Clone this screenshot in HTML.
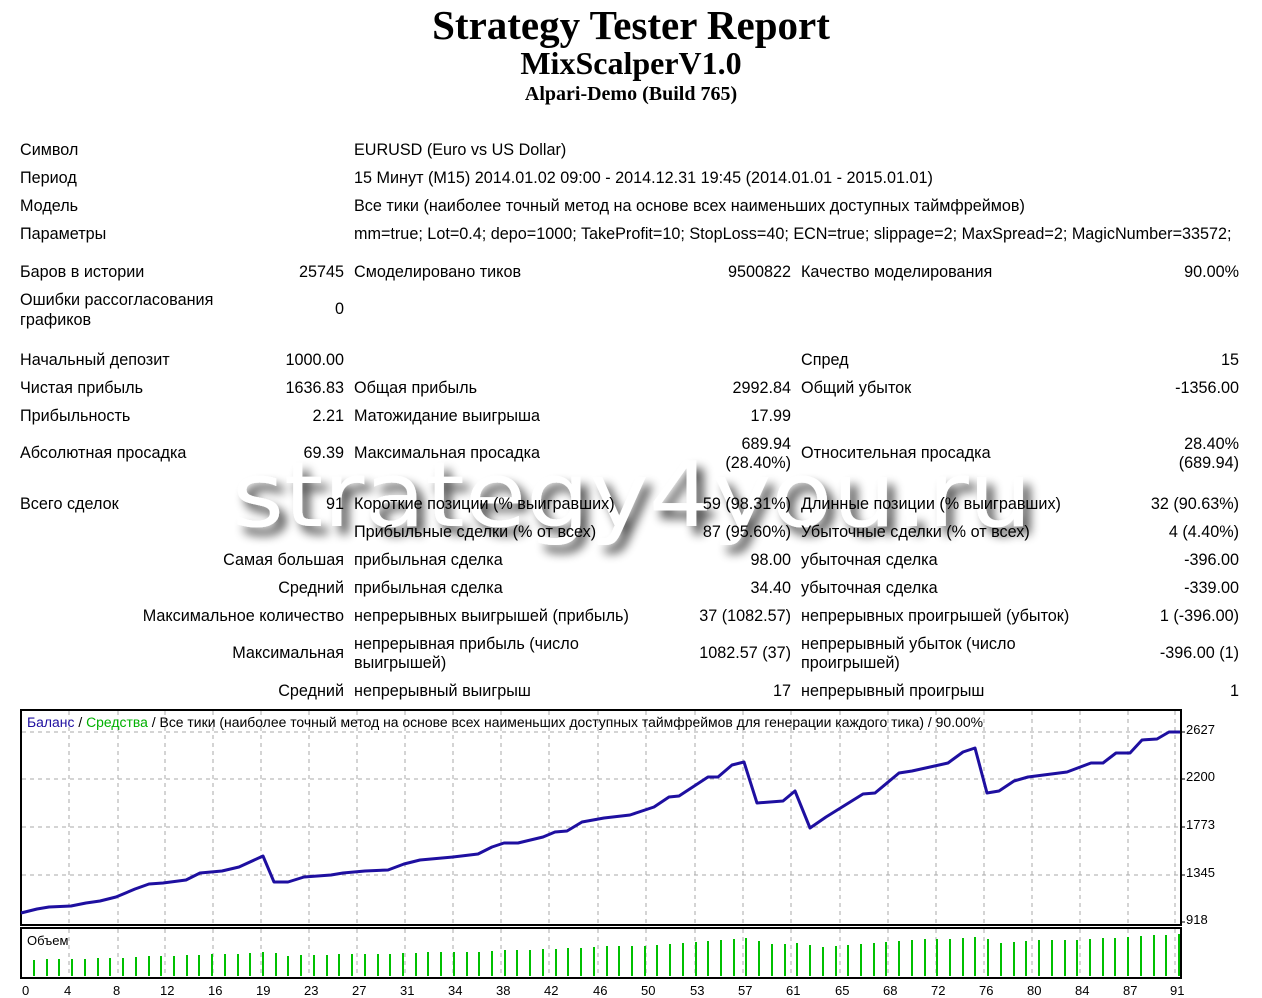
<!DOCTYPE html>
<html><head><meta charset="utf-8">
<style>
html,body{margin:0;padding:0;background:#fff;}
body{width:1262px;height:998px;position:relative;overflow:hidden;font-family:"Liberation Sans","DejaVu Sans",sans-serif;font-size:16.2px;color:#000;}
.t{position:absolute;white-space:nowrap;line-height:19px;}
.r{text-align:right;}
.h{position:absolute;left:0;width:1262px;text-align:center;font-family:"Liberation Serif",serif;font-weight:bold;}
</style></head><body>
<svg id="wm" width="1262" height="998" style="position:absolute;left:0;top:0;pointer-events:none">
<defs><filter id="sh" x="-5%" y="-20%" width="115%" height="150%"><feGaussianBlur in="SourceAlpha" stdDeviation="5"/><feOffset dx="7" dy="8"/><feComponentTransfer><feFuncA type="linear" slope="0.7"/></feComponentTransfer><feMerge><feMergeNode/><feMergeNode in="SourceGraphic"/></feMerge></filter></defs>
<text x="232" y="526" font-family="DejaVu Sans, sans-serif" font-size="90" fill="#fff" textLength="800" lengthAdjust="spacingAndGlyphs" filter="url(#sh)">strategy4you.ru</text>
</svg>
<div class="h" style="top:1px;font-size:41px;">Strategy Tester Report</div>
<div class="h" style="top:45px;font-size:32px;">MixScalperV1.0</div>
<div class="h" style="top:83px;font-size:20px;">Alpari-Demo (Build 765)</div>
<div id="tbl"></div>
<svg id="ch" width="1262" height="998" style="position:absolute;left:0;top:0"></svg>
<script>
var rows=[
[149,["Символ",20,0],["EURUSD (Euro vs US Dollar)",354,0]],
[177,["Период",20,0],["15 Минут (M15) 2014.01.02 09:00 - 2014.12.31 19:45 (2014.01.01 - 2015.01.01)",354,0]],
[205,["Модель",20,0],["Все тики (наиболее точный метод на основе всех наименьших доступных таймфреймов)",354,0]],
[233,["Параметры",20,0],["mm=true; Lot=0.4; depo=1000; TakeProfit=10; StopLoss=40; ECN=true; slippage=2; MaxSpread=2; MagicNumber=33572;",354,0]],
[271,["Баров в истории",20,0],["25745",344,1],["Смоделировано тиков",354,0],["9500822",791,1],["Качество моделирования",801,0],["90.00%",1239,1]],
[299,["Ошибки рассогласования",20,0]],[319,["графиков",20,0]],[308,["0",344,1]],
[359,["Начальный депозит",20,0],["1000.00",344,1],["Спред",801,0],["15",1239,1]],
[387,["Чистая прибыль",20,0],["1636.83",344,1],["Общая прибыль",354,0],["2992.84",791,1],["Общий убыток",801,0],["-1356.00",1239,1]],
[415,["Прибыльность",20,0],["2.21",344,1],["Матожидание выигрыша",354,0],["17.99",791,1]],
[452,["Абсолютная просадка",20,0],["69.39",344,1],["Максимальная просадка",354,0],["Относительная просадка",801,0]],
[443,["689.94",791,1],["28.40%",1239,1]],[462,["(28.40%)",791,1],["(689.94)",1239,1]],
[503,["Всего сделок",20,0],["91",344,1],["Короткие позиции (% выигравших)",354,0],["59 (98.31%)",791,1],["Длинные позиции (% выигравших)",801,0],["32 (90.63%)",1239,1]],
[531,["Прибыльные сделки (% от всех)",354,0],["87 (95.60%)",791,1],["Убыточные сделки (% от всех)",801,0],["4 (4.40%)",1239,1]],
[559,["Самая большая",344,1],["прибыльная сделка",354,0],["98.00",791,1],["убыточная сделка",801,0],["-396.00",1239,1]],
[587,["Средний",344,1],["прибыльная сделка",354,0],["34.40",791,1],["убыточная сделка",801,0],["-339.00",1239,1]],
[615,["Максимальное количество",344,1],["непрерывных выигрышей (прибыль)",354,0],["37 (1082.57)",791,1],["непрерывных проигрышей (убыток)",801,0],["1 (-396.00)",1239,1]],
[652,["Максимальная",344,1],["1082.57 (37)",791,1],["-396.00 (1)",1239,1]],
[643,["непрерывная прибыль (число",354,0],["непрерывный убыток (число",801,0]],
[662,["выигрышей)",354,0],["проигрышей)",801,0]],
[690,["Средний",344,1],["непрерывный выигрыш",354,0],["17",791,1],["непрерывный проигрыш",801,0],["1",1239,1]]
];
var h="";
rows.forEach(function(r){var y=r[0]-8;for(var i=1;i<r.length;i++){var c=r[i];
 if(c[2])h+='<div class="t r" style="top:'+y+'px;right:'+(1262-c[1])+'px">'+c[0]+'</div>';
 else h+='<div class="t" style="top:'+y+'px;left:'+c[1]+'px">'+c[0]+'</div>';}});
document.getElementById('tbl').innerHTML=h;

var s='';
var L=21,R=1181,T=710,B=925,VT=928,VB=978;
s+='<rect x="'+L+'" y="'+T+'" width="'+(R-L)+'" height="'+(B-T)+'" fill="#fff" stroke="#000" stroke-width="2"/>';
s+='<rect x="'+L+'" y="'+VT+'" width="'+(R-L)+'" height="'+(VB-VT)+'" fill="#fff" stroke="#000" stroke-width="2"/>';
var gx=[69,118,165,213,261,309,357,405,453,501,549,598,646,695,743,791,840,888,936,984,1032,1080,1128,1175];
gx.forEach(function(x){s+='<line x1="'+x+'" y1="'+(T+1)+'" x2="'+x+'" y2="'+(B-1)+'" stroke="#aaa" stroke-dasharray="4,4"/>';
 s+='<line x1="'+x+'" y1="'+(VT+1)+'" x2="'+x+'" y2="'+(VB-1)+'" stroke="#aaa" stroke-dasharray="4,4"/>';});
[[732,'2627'],[779,'2200'],[827,'1773'],[875,'1345'],[922,'918']].forEach(function(g){
 if(g[0]<920)s+='<line x1="'+(L+1)+'" y1="'+g[0]+'" x2="'+(R-1)+'" y2="'+g[0]+'" stroke="#aaa" stroke-dasharray="4,4"/>';
 s+='<line x1="'+R+'" y1="'+g[0]+'" x2="'+(R+4)+'" y2="'+g[0]+'" stroke="#000"/>';
 s+='<text x="1186" y="'+(g[0]+2)+'" font-family="Liberation Sans,sans-serif" font-size="13">'+g[1]+'</text>';});
var labs=['0','4','8','12','16','19','23','27','31','34','38','42','46','50','53','57','61','65','68','72','76','80','84','87','91'];
labs.forEach(function(t,i){s+='<text x="'+(i==0?22:(gx[i-1]-5))+'" y="995" font-family="Liberation Sans,sans-serif" font-size="13">'+t+'</text>';});
var p=[[21,913],[37,909],[49,907],[71,906],[86,903],[100,901],[116,897],[135,889],[149,884],[163,883],[186,880],[200,873],[222,871],[239,867],[263,856],[274,882],[288,882],[304,877],[331,875],[343,873],[365,871],[388,870],[404,864],[420,860],[453,857],[478,854],[492,847],[504,843],[518,843],[543,837],[555,832],[567,831],[582,822],[604,818],[630,815],[654,807],[669,797],[679,796],[708,777],[718,777],[732,765],[744,762],[757,803],[783,801],[795,791],[810,828],[826,817],[863,794],[875,793],[899,773],[912,771],[948,763],[963,752],[975,748],[987,793],[999,791],[1014,781],[1028,777],[1067,772],[1091,763],[1103,763],[1116,753],[1130,753],[1142,740],[1157,739],[1169,732],[1180,732]];
s+='<polyline fill="none" stroke="#1e0fa0" stroke-width="3" stroke-linejoin="round" points="'+p.map(function(q){return q.join(',')}).join(' ')+'"/>';
function yAt(x){for(var i=1;i<p.length;i++){if(p[i][0]>=x){var a=p[i-1],b=p[i];return a[1]+(b[1]-a[1])*(x-a[0])/(b[0]-a[0]);}}return p[p.length-1][1];}
for(var i=1;i<=91;i++){var x=Math.round(34+(i-1)*(1179-34)/90);var y=yAt(x-8);var bal=918+(921-y)/0.1124;var hh=Math.round(bal*0.0162);
 s+='<line x1="'+x+'" y1="'+(VB-2)+'" x2="'+x+'" y2="'+(VB-2-hh)+'" stroke="#00c000" stroke-width="2"/>';}
s+='<text x="27" y="727" font-family="Liberation Sans,sans-serif" font-size="13.5" textLength="956" lengthAdjust="spacingAndGlyphs"><tspan fill="#1e0fa0">Баланс</tspan> / <tspan fill="#00b000">Средства</tspan> / Все тики (наиболее точный метод на основе всех наименьших доступных таймфреймов для генерации каждого тика) / 90.00%</text>';
s+='<text x="27" y="945" font-family="Liberation Sans,sans-serif" font-size="13">Объем</text>';
document.getElementById('ch').innerHTML=s;
</script>
</body></html>
